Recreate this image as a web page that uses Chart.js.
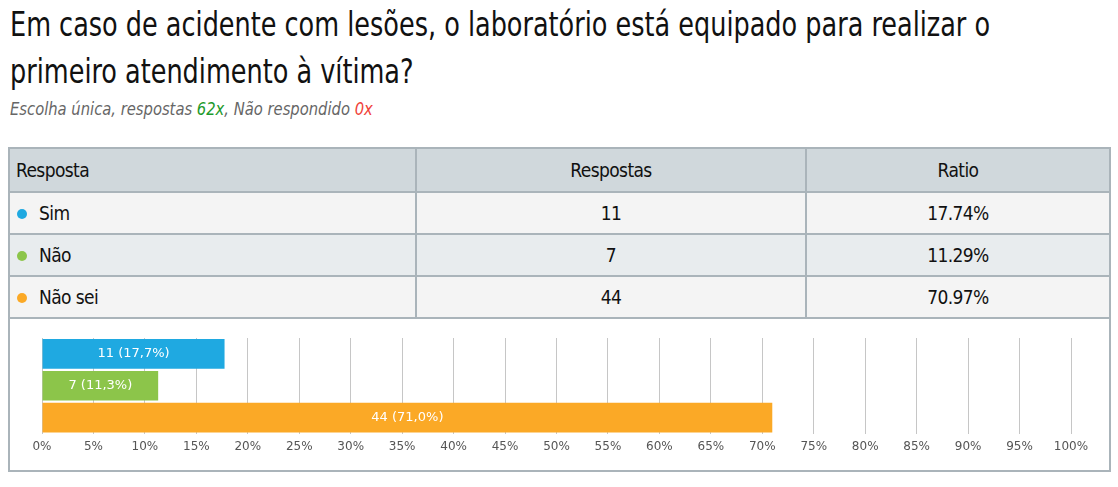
<!DOCTYPE html>
<html>
<head>
<meta charset="utf-8">
<title>Primeiro atendimento</title>
<script src="https://cdn.jsdelivr.net/npm/chart.js"></script>
<style>
  body { margin: 0; background: #fff; font-family: "DejaVu Sans Condensed", sans-serif; color: #111; }
  h1 { position: absolute; left: 10px; top: 1px; margin: 0; font-weight: normal; font-size: 33px; line-height: 47px; white-space: nowrap; transform: scaleX(0.86); transform-origin: 0 0; }
  .sub { position: absolute; left: 10px; top: 99px; font-style: italic; font-size: 17px; color: #666; white-space: nowrap; transform: scaleX(0.965); transform-origin: 0 0; }
  .sub .ok { color: #1d9a2b; }
  .sub .no { color: #f0433a; }
  .box { position: absolute; left: 8px; top: 147px; width: 1099px; height: 321px; border: 2px solid #aab4ba; background: #fff; }
  table { border-collapse: collapse; width: 100%; font-size: 19px; letter-spacing: -0.6px; }
  td, th { height: 40px; border-bottom: 2px solid #aab4ba; padding: 0 6px; font-weight: normal; }
  th { height: 42px; }
  td + td, th + th { border-left: 2px solid #aab4ba; text-align: center; }
  th { background: #d0d8dc; text-align: left; }
  tr.a td { background: #f4f4f4; }
  tr.b td { background: #e8ecee; }
  .dot { display: inline-block; width: 10px; height: 10px; border-radius: 50%; margin: 0 12px 0 1px; vertical-align: 1px; }
  .wrap { position: absolute; left: 0; top: 171px; width: 1099px; height: 150px; }
</style>
</head>
<body>
<h1>Em caso de acidente com lesões, o laboratório está equipado para realizar o<br>primeiro atendimento à vítima?</h1>
<div class="sub">Escolha única, respostas <span class="ok">62x</span>, Não respondido <span class="no">0x</span></div>
<div class="box">
  <table id="tbl">
    <tr><th style="width:393px">Resposta</th><th style="width:376px">Respostas</th><th>Ratio</th></tr>
  </table>
  <div class="wrap"><canvas id="chart"></canvas></div>
</div>
<script>
const categories = ['Sim', 'Não', 'Não sei'];
const counts = [11, 7, 44];
const ratios = [17.74, 11.29, 70.97];
const colors = ['#1fa9e1', '#8cc54a', '#fba926'];
const xTicks = [0, 5, 10, 15, 20, 25, 30, 35, 40, 45, 50, 55, 60, 65, 70, 75, 80, 85, 90, 95, 100];

const tbl = document.getElementById('tbl');
categories.forEach((c, i) => {
  const tr = document.createElement('tr');
  tr.className = i % 2 ? 'b' : 'a';
  tr.innerHTML = '<td><span class="dot" style="background:' + colors[i] + '"></span>' + c + '</td><td>' +
    counts[i] + '</td><td>' + ratios[i].toFixed(2) + '%</td>';
  tbl.appendChild(tr);
});

// count (percent) text in the middle of each bar
const barLabels = {
  id: 'barLabels',
  afterDatasetsDraw(chart) {
    const ctx = chart.ctx;
    const meta = chart.getDatasetMeta(0);
    ctx.save();
    ctx.font = '13px "DejaVu Sans"';
    ctx.fillStyle = '#fff';
    ctx.textAlign = 'center';
    ctx.textBaseline = 'middle';
    meta.data.forEach((bar, i) => {
      const txt = counts[i] + ' (' + ratios[i].toFixed(1).replace('.', ',') + '%)';
      ctx.fillText(txt, (bar.base + bar.x) / 2, bar.y);
    });
    ctx.restore();
  }
};

new Chart(document.getElementById('chart'), {
  type: 'bar',
  data: {
    labels: categories,
    datasets: [{ data: ratios, backgroundColor: colors, barPercentage: 0.93, categoryPercentage: 1 }]
  },
  options: {
    indexAxis: 'y',
    responsive: true,
    maintainAspectRatio: false,
    animation: false,
    layout: { padding: { left: 32, right: 38, top: 18, bottom: 10 } },
    plugins: { legend: { display: false }, tooltip: { enabled: false } },
    scales: {
      x: {
        min: 0, max: 100,
        afterBuildTicks: axis => { axis.ticks = xTicks.map(v => ({ value: v })); },
        border: { display: false },
        grid: { color: '#c6c6c6', drawTicks: false },
        ticks: { padding: 6, color: '#555', font: { family: 'DejaVu Sans', size: 12 }, callback: v => v + '%' }
      },
      y: { display: false }
    }
  },
  plugins: [barLabels]
});
</script>
</body>
</html>
